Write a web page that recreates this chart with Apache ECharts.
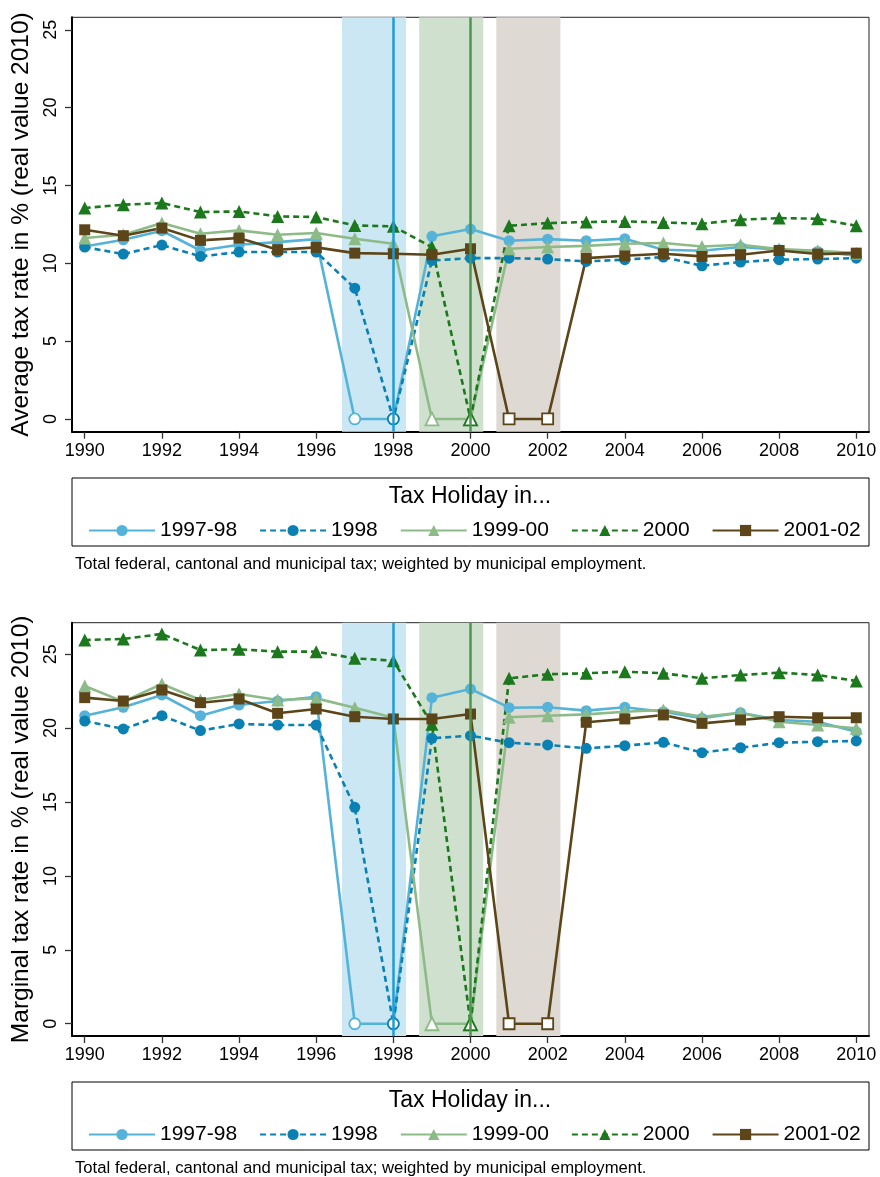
<!DOCTYPE html>
<html>
<head>
<meta charset="utf-8">
<title>Tax holiday rates</title>
<script src="https://cdn.jsdelivr.net/npm/echarts@6/dist/echarts.min.js"></script>
<style>
  html, body { margin: 0; padding: 0; background: #fff; }
  #chart { width: 880px; height: 1177px; }
</style>
</head>
<body>
<div id="chart"></div>
<script>
// Years on the x axis
const years = [1990, 1991, 1992, 1993, 1994, 1995, 1996, 1997, 1998, 1999, 2000,
               2001, 2002, 2003, 2004, 2005, 2006, 2007, 2008, 2009, 2010];
const xTicks = [1990, 1992, 1994, 1996, 1998, 2000, 2002, 2004, 2006, 2008, 2010];
const yTicks = [0, 5, 10, 15, 20, 25];

// Group names (year of the tax holiday)
const groupNames = ['1997-98', '1998', '1999-00', '2000', '2001-02'];
// Years in which each group was on holiday (rate shown as 0, hollow marker)
const holiday9798 = [1997, 1998];
const holiday98 = [1998];
const holiday9900 = [1999, 2000];
const holiday00 = [2000];
const holiday0102 = [2001, 2002];

// Average tax rate in %
const avg9798 = [11.08, 11.51, 12.09, 10.82, 11.19, 11.36, 11.55, 0, 0, 11.73, 12.20,
                 11.45, 11.55, 11.45, 11.58, 10.87, 10.80, 11.04, 10.87, 10.76, 10.48];
const avg98 = [11.04, 10.59, 11.17, 10.44, 10.72, 10.72, 10.72, 8.40, 0, 10.18, 10.33,
               10.33, 10.27, 10.12, 10.23, 10.40, 9.84, 10.08, 10.23, 10.27, 10.33];
const avg9900 = [11.62, 11.83, 12.58, 11.90, 12.11, 11.83, 11.94, 11.58, 11.25, 0, 0,
                 10.93, 11.04, 11.12, 11.25, 11.30, 11.08, 11.19, 10.91, 10.80, 10.65];
const avg00 = [13.55, 13.76, 13.87, 13.29, 13.33, 13.01, 12.97, 12.43, 12.37, 11.04, 0,
               12.41, 12.58, 12.65, 12.69, 12.62, 12.54, 12.80, 12.90, 12.86, 12.41];
const avg0102 = [12.15, 11.77, 12.26, 11.47, 11.62, 10.87, 11.02, 10.65, 10.61, 10.55, 10.93,
                 0, 0, 10.33, 10.48, 10.61, 10.44, 10.55, 10.82, 10.59, 10.65];

// Marginal tax rate in %
const mar9798 = [20.84, 21.41, 22.24, 20.84, 21.56, 21.83, 22.12, 0, 0, 22.06, 22.65,
                 21.38, 21.41, 21.18, 21.41, 21.11, 20.66, 21.04, 20.55, 20.43, 19.76];
const mar98 = [20.48, 19.94, 20.84, 19.83, 20.28, 20.21, 20.21, 14.64, 0, 19.31, 19.49,
               19.01, 18.86, 18.63, 18.81, 19.04, 18.34, 18.67, 19.01, 19.08, 19.13];
const mar9900 = [22.85, 21.79, 22.98, 21.90, 22.31, 21.90, 22.01, 21.38, 20.70, 0, 0,
                 20.73, 20.84, 20.93, 21.11, 21.22, 20.77, 21.04, 20.43, 20.21, 19.99];
const mar00 = [25.96, 26.03, 26.37, 25.28, 25.33, 25.17, 25.17, 24.72, 24.56, 20.26, 0,
               23.37, 23.64, 23.71, 23.82, 23.71, 23.37, 23.59, 23.75, 23.59, 23.19];
const mar0102 = [22.06, 21.83, 22.58, 21.72, 21.97, 21.00, 21.29, 20.77, 20.62, 20.62, 20.95,
                 0, 0, 20.39, 20.62, 20.89, 20.32, 20.55, 20.77, 20.70, 20.70];

// Holiday periods shaded in the plots, and the marked holiday years
const bandRanges = [[1996.67, 1998.33], [1998.67, 2000.33], [2000.67, 2002.33]];
const markedYears = [1998, 2000];

const FONT = 'Liberation Sans, Arial, Helvetica, sans-serif';

const styles = {
  '1997-98': { color: '#55b3d9', symbol: 'circle', size: 11, dash: 'solid', holidays: holiday9798 },
  '1998':    { color: '#0a80b3', symbol: 'circle', size: 11, dash: [6, 4], holidays: holiday98 },
  '1999-00': { color: '#8dbb88', symbol: 'triangle', size: 13, dash: 'solid', holidays: holiday9900 },
  '2000':    { color: '#1c781c', symbol: 'triangle', size: 13, dash: [6, 4], holidays: holiday00 },
  '2001-02': { color: '#5c4518', symbol: 'rect', size: 11, dash: 'solid', holidays: holiday0102 }
};
const bandColors = ['#cbe7f3', '#cfe1ce', '#ded9d3'];
const markColors = ['#1f9cd6', '#4e964e'];

function makeSeries(name, values, idx) {
  const st = styles[name];
  return {
    name: name,
    type: 'line',
    xAxisIndex: idx,
    yAxisIndex: idx,
    z: 3,
    symbol: st.symbol,
    symbolSize: st.size,
    showAllSymbol: true,
    lineStyle: { color: st.color, width: 2.6, type: st.dash },
    itemStyle: { color: st.color, borderWidth: 0 },
    emphasis: { disabled: true },
    data: years.map((y, i) => {
      const item = { value: [y, values[i]] };
      if (st.holidays.includes(y)) {
        item.itemStyle = { color: '#ffffff', borderColor: st.color, borderWidth: 1.8 };
      }
      return item;
    })
  };
}

function backdropSeries(idx) {
  return {
    name: 'periods' + idx,
    type: 'line',
    xAxisIndex: idx,
    yAxisIndex: idx,
    z: 1,
    silent: true,
    data: [],
    markArea: {
      silent: true,
      data: bandRanges.map((r, k) => [
        { xAxis: r[0], itemStyle: { color: bandColors[k], opacity: 1 } },
        { xAxis: r[1] }
      ])
    },
    markLine: {
      silent: true,
      symbol: 'none',
      label: { show: false },
      data: markedYears.map((yr, k) => ({
        xAxis: yr,
        lineStyle: { color: markColors[k], width: 2.5, type: 'solid' }
      }))
    }
  };
}

const gridTops = [17.3, 622.7];
const gridHeights = [414.4, 413.3];
const yMins = [-0.82, -0.83];
const yMaxs = [25.8, 27.13];
const yNames = ['Average tax rate in % (real value 2010)', 'Marginal tax rate in % (real value 2010)'];

function xAxis(idx) {
  return {
    type: 'value', gridIndex: idx, min: 1989.67, max: 2010.33,
    axisLine: { show: true, onZero: false, lineStyle: { color: '#000', width: 2 } },
    axisTick: { show: true, length: 7, lineStyle: { color: '#333', width: 1.3 }, customValues: xTicks },
    axisLabel: { color: '#000', fontFamily: FONT, fontSize: 18, margin: 10, customValues: xTicks,
                 formatter: v => String(v) },
    splitLine: { show: false }
  };
}
function yAxis(idx) {
  return {
    type: 'value', gridIndex: idx, min: yMins[idx], max: yMaxs[idx],
    name: yNames[idx], nameLocation: 'middle', nameRotate: 90, nameGap: 38,
    nameTextStyle: { color: '#000', fontFamily: FONT, fontSize: 24.5 },
    axisLine: { show: true, onZero: false, lineStyle: { color: '#000', width: 2 } },
    axisTick: { show: true, length: 7, lineStyle: { color: '#333', width: 1.3 }, customValues: yTicks },
    axisLabel: { color: '#000', fontFamily: FONT, fontSize: 18, rotate: 90, margin: 12, customValues: yTicks,
                 formatter: v => String(v) },
    splitLine: { show: false }
  };
}

const legendTops = [478, 1082];
function legendGraphics(idx) {
  const top = legendTops[idx];
  return [
    { type: 'rect', shape: { x: 72, y: top, width: 797, height: 68 },
      style: { fill: 'none', stroke: '#000', lineWidth: 1 }, silent: true },
    { type: 'text', x: 470, y: top + 19, silent: true,
      style: { text: 'Tax Holiday in...', fill: '#000', font: '23px ' + FONT, align: 'center', verticalAlign: 'middle' } },
    { type: 'text', x: 75, y: top + 86, silent: true,
      style: { text: 'Total federal, cantonal and municipal tax; weighted by municipal employment.',
               fill: '#000', font: '16.7px ' + FONT, align: 'left', verticalAlign: 'middle' } }
  ];
}
function legend(idx) {
  return {
    data: groupNames,
    left: 88, top: legendTops[idx] + 42,
    orient: 'horizontal', padding: 0,
    itemWidth: 66, itemHeight: 14, itemGap: 22,
    selectedMode: false,
    textStyle: { color: '#000', fontFamily: FONT, fontSize: 21 }
  };
}

const chart = echarts.init(document.getElementById('chart'), null, { renderer: 'canvas' });
chart.setOption({
  animation: false,
  backgroundColor: '#fff',
  grid: [0, 1].map(i => ({
    left: 72, top: gridTops[i], width: 797, height: gridHeights[i],
    containLabel: false, outerBoundsMode: 'none',
    show: true, borderColor: '#222', borderWidth: 1, backgroundColor: 'transparent'
  })),
  xAxis: [xAxis(0), xAxis(1)],
  yAxis: [yAxis(0), yAxis(1)],
  legend: [legend(0), legend(1)],
  graphic: [...legendGraphics(0), ...legendGraphics(1)],
  series: [
    backdropSeries(0),
    makeSeries('1997-98', avg9798, 0),
    makeSeries('1998', avg98, 0),
    makeSeries('1999-00', avg9900, 0),
    makeSeries('2000', avg00, 0),
    makeSeries('2001-02', avg0102, 0),
    backdropSeries(1),
    makeSeries('1997-98', mar9798, 1),
    makeSeries('1998', mar98, 1),
    makeSeries('1999-00', mar9900, 1),
    makeSeries('2000', mar00, 1),
    makeSeries('2001-02', mar0102, 1)
  ]
});
</script>
</body>
</html>
